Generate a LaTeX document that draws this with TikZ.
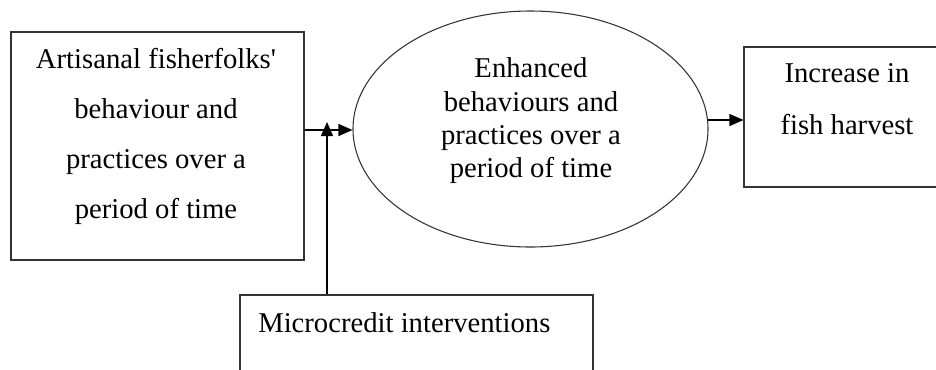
\documentclass[tikz,border=0pt]{standalone}
\usepackage{fontspec}
\setmainfont{Liberation Serif}
\usepackage{tikz}
\usetikzlibrary{arrows.meta}
\usetikzlibrary{shapes.geometric}
\tikzset{>={Triangle[length=10.5pt,width=9pt]}}
\definecolor{boxline}{HTML}{333333}
\tikzset{
  box/.style={draw=boxline, line width=0.8pt, rectangle, inner sep=0pt},
  oval/.style={draw=boxline, line width=0.8pt, ellipse, inner sep=0pt},
  words/.style={align=center, inner sep=0pt, font=\fontsize{21.5pt}{37.5pt}\selectfont},
  flow/.style={->, line width=1pt}
}

\begin{document}
\begin{tikzpicture}[x=0.75pt, y=-0.75pt]
            \path[use as bounding box, clip] (0, 0) rectangle (936, 369);
            \node[box, minimum width=219.75pt, minimum height=171pt] (A) at (157.5, 146) {};
            \node[words] at (156, 136) {Artisanal fisherfolks\textquotesingle\\behaviour and\\practices over a\\period of time};
            \node[oval, minimum width=266.25pt, minimum height=177pt] (E) at (530.5, 129) {};
            \node[words, font=\fontsize{21.5pt}{25pt}\selectfont] at (531, 121) {Enhanced\\behaviours and\\practices over a\\period of time};
            \node[box, minimum width=154.5pt, minimum height=105pt] (H) at (847, 117) {};
            \node[words, font=\fontsize{21.5pt}{39pt}\selectfont] at (847, 99) {Increase in\\fish harvest};
            \node[box, minimum width=264.75pt, minimum height=78.75pt] (M) at (416.5, 347.5) {};
            \node[words, anchor=base west] at (258, 332) {Microcredit interventions};
            \coordinate (J) at (327, 130);
            \coordinate (T) at (327, 122);
            \coordinate (O) at (708, 120);
            \draw[flow] (J -| A.east) -- (J -| E.west);
            \draw[flow] (M.north -| T) -- (T);
            \draw[flow] (O) -- (O -| H.west);
        \end{tikzpicture}
\end{document}
